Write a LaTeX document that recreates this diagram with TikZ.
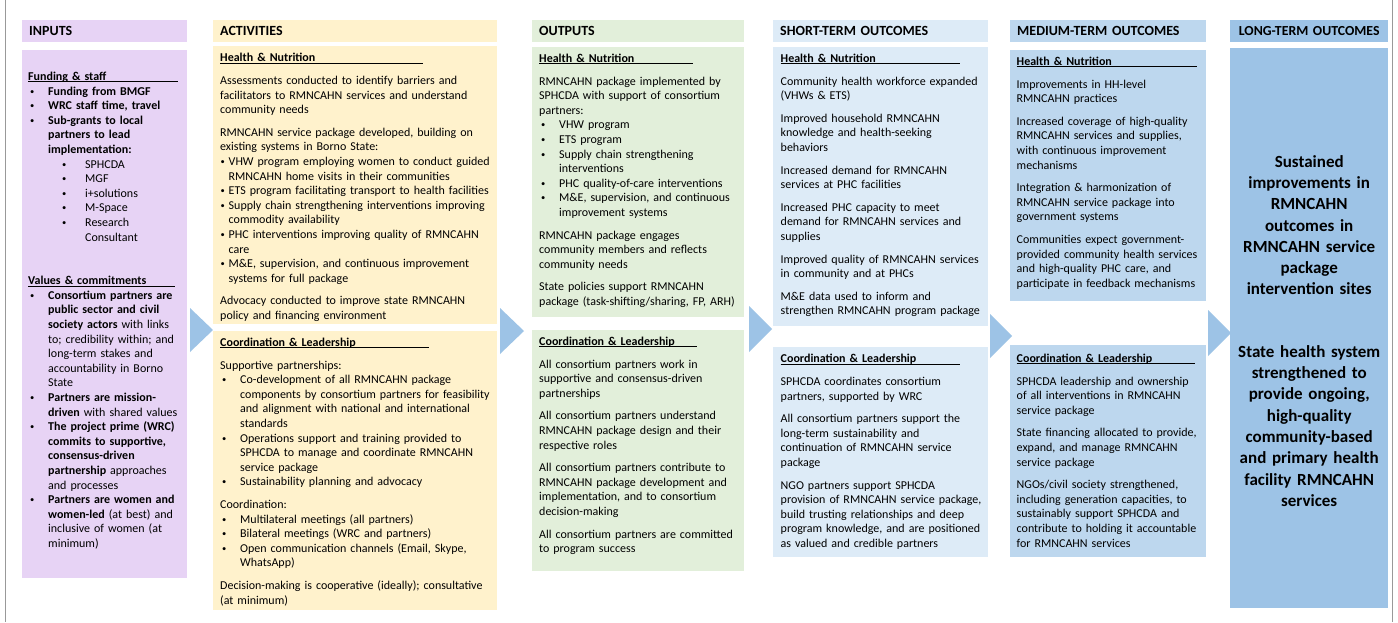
\documentclass[tikz,border=0pt]{standalone}
\usepackage{fontspec}
\setmainfont{Carlito}
\usepackage{tikz}
\usetikzlibrary{positioning}

\definecolor{inputc}{RGB}{231,211,245}
\definecolor{actc}{HTML}{FFF2CC}
\definecolor{outc}{HTML}{E2EFDA}
\definecolor{shortc}{HTML}{DDEBF7}
\definecolor{medc}{HTML}{BDD7EE}
\definecolor{longc}{HTML}{9DC3E6}
\definecolor{arrowc}{HTML}{9DC3E6}

\setlength{\parindent}{0pt}
\hyphenpenalty=10000

\newcommand{\secline}[2]{\strut\makebox[0pt][l]{\rule[-1.8pt]{#2}{0.8pt}}\textbf{#1}}
\newcommand{\brk}{\newline}
\newcommand{\pgap}{\par\vspace{8pt}}
\newcommand{\smallbul}{{\fontsize{8.5}{8.5}\selectfont\raisebox{0.9pt}{\textbullet}}}
\newcommand{\bitem}[3]{\par\hangindent=#2\hangafter=1\noindent\hbox to #2{\hspace*{#1}\smallbul\hfil}#3\par}
\newcommand{\bmain}{\bitem{2pt}{20pt}}
\newcommand{\bsub}{\bitem{34pt}{57pt}}
\newcommand{\bnarrow}{\bitem{0.5pt}{8.5pt}}

\begin{document}
\begin{tikzpicture}[
    x=1pt, y=-1pt,
    box/.style={rectangle, inner sep=0pt, anchor=north west},
    hdr/.style={box, inner xsep=7pt, minimum height=22pt, align=left, font=\fontsize{14}{17}\selectfont\bfseries},
    txt/.style={inner sep=0pt, align=left, font=\fontsize{12}{14.6}\selectfont},
    arw/.style={fill=arrowc}
]
    % Canvas and frame
    \path[fill=white, use as bounding box] (0,0) rectangle (1398,622);
    \draw[gray!80, line width=0.8pt] (5,0) -- (5,622);
    \draw[gray!80, line width=0.8pt] (1392,0) -- (1392,622);

    % Column headers
    \node[hdr, fill=inputc, text width=151pt] (inhdr) at (22,20) {INPUTS};
    \node[hdr, fill=actc, text width=270pt] (acthdr) at (213,20) {ACTIVITIES};
    \node[hdr, fill=outc, text width=198pt] (outhdr) at (532,20) {OUTPUTS};
    \node[hdr, fill=shortc, text width=201pt] (sthdr) at (773,20) {SHORT-TERM OUTCOMES};
    \node[hdr, fill=medc, text width=182pt] (mthdr) at (1010,20) {MEDIUM-TERM OUTCOMES};
    \node[hdr, fill=longc, text width=144pt, align=center, font=\fontsize{13.8}{16}\selectfont\bfseries] (lthdr) at (1230,20) {LONG-TERM OUTCOMES};

    % Column bodies
    \node[box, fill=inputc, minimum width=165pt, minimum height=528pt] (inbody) at (22,50) {};
    \node[box, fill=actc, minimum width=284pt, minimum height=278pt] (acttop) at (213,46) {};
    \node[box, fill=actc, minimum width=284pt, minimum height=279pt] (actbot) at (213,331) {};
    \node[box, fill=outc, minimum width=212pt, minimum height=270pt] (outtop) at (532,47) {};
    \node[box, fill=outc, minimum width=212pt, minimum height=241pt] (outbot) at (532,330) {};
    \node[box, fill=shortc, minimum width=215pt, minimum height=279pt] (sttop) at (773,47) {};
    \node[box, fill=shortc, minimum width=215pt, minimum height=210pt] (stbot) at (773,347) {};
    \node[box, fill=medc, minimum width=196pt, minimum height=251pt] (mttop) at (1010,50) {};
    \node[box, fill=medc, minimum width=196pt, minimum height=212pt] (mtbot) at (1010,345) {};
    \node[box, fill=longc, minimum width=158pt, minimum height=560pt] (ltbody) at (1230,48) {};

    % Arrows between columns
    \fill[arw] (190,308) -- (213,330) -- (190,352) -- cycle;
    \fill[arw] (500,308) -- (524,331) -- (500,354) -- cycle;
    \fill[arw] (749,306) -- (772,329) -- (749,352) -- cycle;
    \fill[arw] (990,314) -- (1012,336) -- (990,358) -- cycle;
    \fill[arw] (1208,310) -- (1231,333) -- (1208,356) -- cycle;

    % Inputs
    \node[txt, text width=160pt, below right=20pt and 6pt of inbody.north west] (intext) {%
        \secline{Funding \& staff}{150pt}
        \bmain{\textbf{Funding from BMGF}}
        \bmain{\textbf{WRC staff time, travel}}
        \bmain{\textbf{Sub-grants to local\brk partners to lead\brk implementation:}}
        \bsub{SPHCDA}
        \bsub{MGF}
        \bsub{i+solutions}
        \bsub{M-Space}
        \bsub{Research\brk Consultant}
        \par\vspace{29pt}
        \secline{Values \& commitments}{147pt}
        \bmain{\textbf{Consortium partners are\brk public sector and civil\brk society actors} with links\brk to; credibility within; and\brk long-term stakes and\brk accountability in Borno\brk State}
        \bmain{\textbf{Partners are mission-\brk driven} with shared values}
        \bmain{\textbf{The project prime (WRC)\brk commits to supportive,\brk consensus-driven\brk partnership} approaches\brk and processes}
        \bmain{\textbf{Partners are women and\brk women-led} (at best) and\brk inclusive of women (at\brk minimum)}};

    % Activities
    \node[txt, text width=278pt, below right=5.5pt and 7pt of acttop.north west] (acttext) {%
        \secline{Health \& Nutrition}{203pt}
        \pgap
        Assessments conducted to identify barriers and\brk facilitators to RMNCAHN services and understand\brk community needs
        \pgap
        RMNCAHN service package developed, building on\brk existing systems in Borno State:
        \bnarrow{VHW program employing women to conduct guided\brk RMNCAHN home visits in their communities}
        \bnarrow{ETS program facilitating transport to health facilities}
        \bnarrow{Supply chain strengthening interventions improving\brk commodity availability}
        \bnarrow{PHC interventions improving quality of RMNCAHN\brk care}
        \bnarrow{M\&E, supervision, and continuous improvement\brk systems for full package}
        \pgap
        Advocacy conducted to improve state RMNCAHN\brk policy and financing environment};
    \node[txt, text width=278pt, below right=5pt and 7pt of actbot.north west] (actcoord) {%
        \secline{Coordination \& Leadership}{209pt}
        \pgap
        Supportive partnerships:
        \bmain{Co-development of all RMNCAHN package\brk components by consortium partners for feasibility\brk and alignment with national and international\brk standards}
        \bmain{Operations support and training provided to\brk SPHCDA to manage and coordinate RMNCAHN\brk service package}
        \bmain{Sustainability planning and advocacy}
        \pgap
        Coordination:
        \bmain{Multilateral meetings (all partners)}
        \bmain{Bilateral meetings (WRC and partners)}
        \bmain{Open communication channels (Email, Skype,\brk WhatsApp)}
        \pgap
        Decision-making is cooperative (ideally); consultative\brk (at minimum)};

    % Outputs
    \node[txt, text width=206pt, below right=5pt and 7pt of outtop.north west] (outtext) {%
        \secline{Health \& Nutrition}{154pt}
        \pgap
        RMNCAHN package implemented by\brk SPHCDA with support of consortium\brk partners:
        \bmain{VHW program}
        \bmain{ETS program}
        \bmain{Supply chain strengthening\brk interventions}
        \bmain{PHC quality-of-care interventions}
        \bmain{M\&E, supervision, and continuous\brk improvement systems}
        \pgap
        RMNCAHN package engages\brk community members and reflects\brk community needs
        \pgap
        State policies support RMNCAHN\brk package (task-shifting/sharing, FP, ARH)};
    \node[txt, text width=206pt, below right=5pt and 7pt of outbot.north west] (outcoord) {%
        \secline{Coordination \& Leadership}{158pt}
        \pgap
        All consortium partners work in\brk supportive and consensus-driven\brk partnerships
        \pgap
        All consortium partners understand\brk RMNCAHN package design and their\brk respective roles
        \pgap
        All consortium partners contribute to\brk RMNCAHN package development and\brk implementation, and to consortium\brk decision-making
        \pgap
        All consortium partners are committed\brk to program success};

    % Short-term outcomes
    \node[txt, text width=208pt, below right=5pt and 7.5pt of sttop.north west] (sttext) {%
        \secline{Health \& Nutrition}{179pt}
        \pgap
        Community health workforce expanded\brk (VHWs \& ETS)
        \pgap
        Improved household RMNCAHN\brk knowledge and health-seeking\brk behaviors
        \pgap
        Increased demand for RMNCAHN\brk services at PHC facilities
        \pgap
        Increased PHC capacity to meet\brk demand for RMNCAHN services and\brk supplies
        \pgap
        Improved quality of RMNCAHN services\brk in community and at PHCs
        \pgap
        M\&E data used to inform and\brk strengthen RMNCAHN program package};
    \node[txt, text width=208pt, below right=5.5pt and 7.5pt of stbot.north west] (stcoord) {%
        \secline{Coordination \& Leadership}{179pt}
        \pgap
        SPHCDA coordinates consortium\brk partners, supported by WRC
        \pgap
        All consortium partners support the\brk long-term sustainability and\brk continuation of RMNCAHN service\brk package
        \pgap
        NGO partners support SPHCDA\brk provision of RMNCAHN service package,\brk build trusting relationships and deep\brk program knowledge, and are positioned\brk as valued and credible partners};

    % Medium-term outcomes
    \node[txt, text width=190pt, below right=5pt and 6.5pt of mttop.north west] (mttext) {%
        \secline{Health \& Nutrition}{180pt}
        \pgap
        Improvements in HH-level\brk RMNCAHN practices
        \pgap
        Increased coverage of high-quality\brk RMNCAHN services and supplies,\brk with continuous improvement\brk mechanisms
        \pgap
        Integration \& harmonization of\brk RMNCAHN service package into\brk government systems
        \pgap
        Communities expect government-\brk provided community health services\brk and high-quality PHC care, and\brk participate in feedback mechanisms};
    \node[txt, text width=190pt, below right=7pt and 6.5pt of mtbot.north west] (mtcoord) {%
        \secline{Coordination \& Leadership}{178pt}
        \pgap
        SPHCDA leadership and ownership\brk of all interventions in RMNCAHN\brk service package
        \pgap
        State financing allocated to provide,\brk expand, and manage RMNCAHN\brk service package
        \pgap
        NGOs/civil society strengthened,\brk including generation capacities, to\brk sustainably support SPHCDA and\brk contribute to holding it accountable\brk for RMNCAHN services};

    % Long-term outcomes
    \node[txt, text width=150pt, align=center, font=\fontsize{17}{21.3}\selectfont\bfseries, below=104pt of ltbody.north] (lttext) {%
        \strut Sustained\\ improvements in\\ RMNCAHN\\ outcomes in\\ RMNCAHN service\\ package\\ intervention sites\\[41pt]
        State health system\\ strengthened to\\ provide ongoing,\\ high-quality\\ community-based\\ and primary health\\ facility RMNCAHN\\ services};
\end{tikzpicture}
\end{document}
